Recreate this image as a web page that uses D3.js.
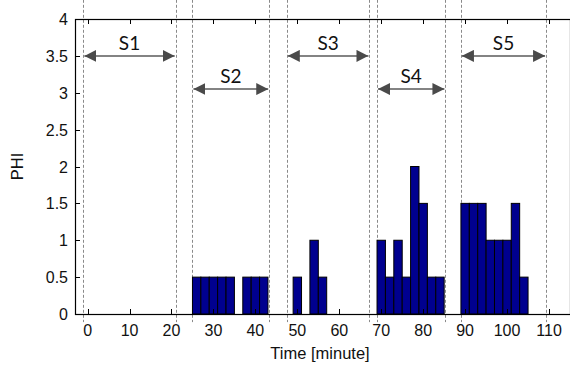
<!DOCTYPE html>
<html>
<head>
<meta charset="utf-8">
<script src="https://cdn.jsdelivr.net/npm/d3@7"></script>
<style>
    body { margin: 0; background: #fff; }
    svg { display: block; }
    .tick-label { font-family: "Liberation Sans", Arial, sans-serif; font-size: 16px; fill: #111; }
    .axis-title { font-family: "Liberation Sans", Arial, sans-serif; font-size: 16.5px; fill: #111; }
    .seg-label { font-family: Lato, "Open Sans", sans-serif; font-size: 19px; fill: #111; }
</style>
</head>
<body>
<svg id="chart" width="570" height="367"></svg>
<script>
// bars: start of each 2 minute bin and its PHI value
const binStart = [25, 27, 29, 31, 33, 37, 39, 41,
    49, 53, 55,
    69, 71, 73, 75, 77, 79, 81, 83,
    89, 91, 93, 95, 97, 99, 101, 103];
const phiValues = [0.5, 0.5, 0.5, 0.5, 0.5, 0.5, 0.5, 0.5,
    0.5, 1, 0.5,
    1, 0.5, 1, 0.5, 2, 1.5, 0.5, 0.5,
    1.5, 1.5, 1.5, 1, 1, 1, 1.5, 0.5];
const binWidth = 2;

// session segments
const segments = ['S1', 'S2', 'S3', 'S4', 'S5'];
const segStart = [-1, 25, 47.5, 69, 89];
const segEnd = [21, 43.3, 67.2, 85.3, 109.3];
const arrowLevel = [3.5, 3.05, 3.5, 3.05, 3.5];

const xTicks = d3.range(0, 111, 10);
const yTicks = d3.range(0, 4.01, 0.5);

const svg = d3.select('#chart');
const pLeft = 75, pTop = 19, pRight = 570, pBottom = 314;

const x = d3.scaleLinear().domain([-3, 115]).range([pLeft, pRight]);
const y = d3.scaleLinear().domain([0, 4]).range([pBottom, pTop]);

// dashed session borders
const borders = segStart.concat(segEnd);
svg.append('g').selectAll('line')
    .data(borders)
    .join('line')
    .attr('x1', d => Math.round(x(d)) + 0.5)
    .attr('x2', d => Math.round(x(d)) + 0.5)
    .attr('y1', y(4.26))
    .attr('y2', y(-0.11))
    .attr('stroke', '#8a8a8a')
    .attr('stroke-width', 1)
    .attr('stroke-dasharray', '3,2');

// bars
svg.append('g').selectAll('rect')
    .data(binStart)
    .join('rect')
    .attr('x', (d, i) => x(d))
    .attr('y', (d, i) => y(phiValues[i]))
    .attr('width', d => x(d + binWidth) - x(d))
    .attr('height', (d, i) => y(0) - y(phiValues[i]))
    .attr('fill', '#00008f')
    .attr('stroke', '#000')
    .attr('stroke-width', 1);

// arrows
const defs = svg.append('defs');
['start', 'end'].forEach(k => {
    defs.append('marker')
        .attr('id', 'arrow-' + k)
        .attr('viewBox', '0 0 10 10')
        .attr('refX', k == 'end' ? 10 : 0)
        .attr('refY', 5)
        .attr('markerWidth', 12)
        .attr('markerHeight', 12)
        .attr('markerUnits', 'userSpaceOnUse')
        .attr('orient', 'auto')
        .append('path')
        .attr('d', k == 'end' ? 'M0,0 L10,5 L0,10 Z' : 'M10,0 L0,5 L10,10 Z')
        .attr('fill', '#4a4a4a');
});

const arrows = svg.append('g');
segments.forEach((s, i) => {
    arrows.append('line')
        .attr('x1', x(segStart[i]) + 1)
        .attr('x2', x(segEnd[i]) - 1)
        .attr('y1', y(arrowLevel[i]))
        .attr('y2', y(arrowLevel[i]))
        .attr('stroke', '#5a5a5a')
        .attr('stroke-width', 1.5)
        .attr('marker-start', 'url(#arrow-start)')
        .attr('marker-end', 'url(#arrow-end)');
    arrows.append('text')
        .attr('class', 'seg-label')
        .attr('x', x((segStart[i] + segEnd[i]) / 2))
        .attr('y', y(arrowLevel[i]) - 6)
        .attr('text-anchor', 'middle')
        .text(s);
});

// axes box with inward ticks
const axes = svg.append('g');
axes.append('rect')
    .attr('x', pLeft + 0.5)
    .attr('y', pTop + 0.5)
    .attr('width', pRight - pLeft)
    .attr('height', pBottom - pTop)
    .attr('fill', 'none')
    .attr('stroke', '#000')
    .attr('stroke-width', 1.2);

xTicks.forEach(t => {
    let px = Math.round(x(t)) + 0.5;
    axes.append('line').attr('x1', px).attr('x2', px).attr('y1', pBottom).attr('y2', pBottom - 5).attr('stroke', '#000');
    axes.append('line').attr('x1', px).attr('x2', px).attr('y1', pTop).attr('y2', pTop + 5).attr('stroke', '#000');
    axes.append('text')
        .attr('class', 'tick-label')
        .attr('x', x(t))
        .attr('y', pBottom + 22)
        .attr('text-anchor', 'middle')
        .text(t);
});

yTicks.forEach(t => {
    let py = Math.round(y(t)) + 0.5;
    axes.append('line').attr('x1', pLeft).attr('x2', pLeft + 5).attr('y1', py).attr('y2', py).attr('stroke', '#000');
    axes.append('text')
        .attr('class', 'tick-label')
        .attr('x', pLeft - 7)
        .attr('y', y(t) + 6)
        .attr('text-anchor', 'end')
        .text(t);
});

// axis titles
svg.append('text')
    .attr('class', 'axis-title')
    .attr('x', 320)
    .attr('y', 359)
    .attr('text-anchor', 'middle')
    .text('Time [minute]');

svg.append('text')
    .attr('class', 'axis-title')
    .attr('transform', 'translate(23,' + ((pTop + pBottom) / 2) + ') rotate(-90)')
    .attr('text-anchor', 'middle')
    .text('PHI');
</script>
</body>
</html>
